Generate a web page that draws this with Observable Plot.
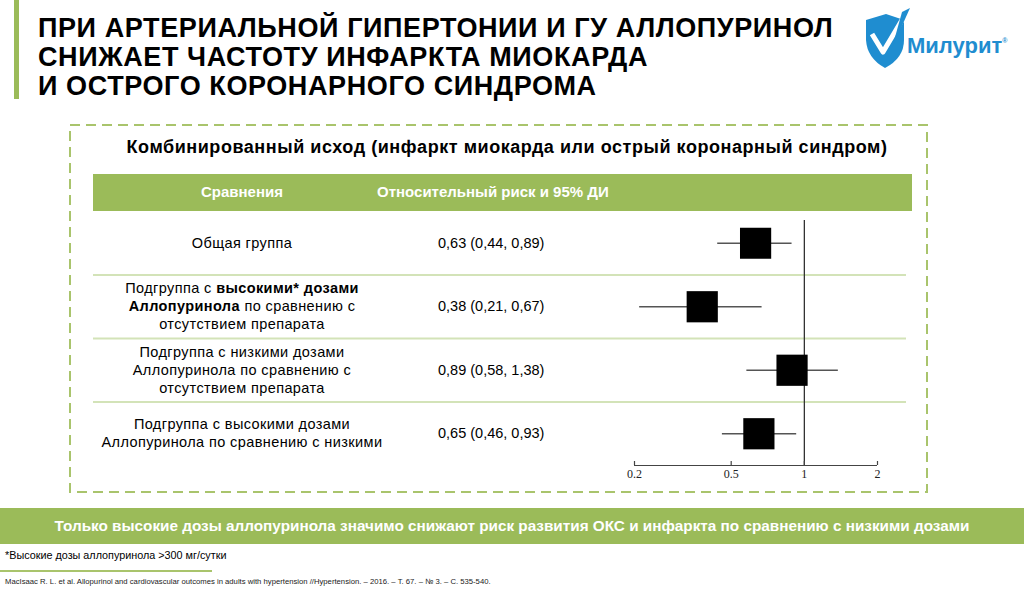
<!DOCTYPE html>
<html>
<head>
<meta charset="utf-8">
<script src="https://cdn.jsdelivr.net/npm/d3@7"></script>
<script src="https://cdn.jsdelivr.net/npm/@observablehq/plot@0.6"></script>
<style>
  html, body { margin: 0; padding: 0; background: #fff; }
  body { width: 1024px; height: 589px; position: relative; overflow: hidden; font-family: "Liberation Sans", Arial, sans-serif; color: #000; }
  .abs { position: absolute; }
  #bar { left: 14px; top: 0; width: 5px; height: 99px; background: #9bbb59; }
  #title { left: 38px; top: 14px; font-size: 27px; letter-spacing: 0.6px; font-weight: bold; line-height: 29px; white-space: nowrap; }
  #logoText { left: 907px; top: 33px; font-size: 22px; font-weight: bold; color: #1f8dd0; white-space: nowrap; }
  #subtitle { left: 0; width: 1014px; top: 137px; text-align: center; font-size: 18px; letter-spacing: 0.55px; font-weight: bold; white-space: nowrap; }
  #header { left: 93px; top: 174px; width: 819px; height: 37px; background: #9bbb59; color: #fff; font-weight: bold; font-size: 15px; }
  #header .c1 { position: absolute; left: 0; width: 298px; top: 9px; text-align: center; }
  #header .c2 { position: absolute; left: 284px; top: 9px; }
  #rows { left: 93px; top: 211px; width: 819px; }
  .row { position: absolute; left: 0; width: 819px; height: 63.5px; font-size: 14.5px; line-height: 18px; }
  .row .c1 { position: absolute; left: 0; width: 298px; top: 0; height: 100%; display: flex; flex-direction: column; justify-content: center; text-align: center; letter-spacing: 0.4px; white-space: nowrap; }
  .row .c2 { position: absolute; left: 345px; top: 0; height: 100%; display: flex; align-items: center; }
  #plot { left: 93px; top: 211px; }
  #band { left: 0; top: 508px; width: 1024px; height: 36px; background: #9bbb59; color: #fff; font-weight: bold; font-size: 15.3px; line-height: 36px; text-align: center; white-space: nowrap; }
  #foot { left: 5px; top: 549px; font-size: 10.8px; white-space: nowrap; }
  #footline { left: 0; top: 570px; width: 212px; height: 1.5px; background: #a9c46c; }
  #ref { left: 5px; top: 577px; font-size: 7.7px; white-space: nowrap; color: #222; }
</style>
</head>
<body>
<div id="bar" class="abs"></div>
<div id="title" class="abs">ПРИ АРТЕРИАЛЬНОЙ ГИПЕРТОНИИ И ГУ АЛЛОПУРИНОЛ<br>СНИЖАЕТ ЧАСТОТУ ИНФАРКТА МИОКАРДА<br>И ОСТРОГО КОРОНАРНОГО СИНДРОМА</div>

<svg class="abs" style="left:862px;top:8px" width="50" height="62" viewBox="0 0 50 62">
  <path d="M4,12 L24,6 L42,12 L42,32 Q42,50 23,60 Q5,50 4,32 Z" fill="#1f8dd0"/>
  <path d="M10,26 L21,44 L46,2" fill="none" stroke="#fff" stroke-width="5" stroke-linejoin="round"/>
  <path d="M40,4 L48,0 L30,40 Z" fill="#1f8dd0"/>
</svg>
<div id="logoText" class="abs">Милурит<sup style="font-size:7px;vertical-align:10px">®</sup></div>

<svg class="abs" style="left:69px;top:124px" width="860" height="370">
  <rect x="1" y="1" width="857" height="367" fill="none" stroke="#a9c46c" stroke-width="2" stroke-dasharray="10,6"/>
</svg>

<div id="subtitle" class="abs">Комбинированный исход (инфаркт миокарда или острый коронарный синдром)</div>

<div id="header" class="abs"><div class="c1" id="h1"></div><div class="c2" id="h2"></div></div>
<div id="rows" class="abs"></div>
<div id="plot" class="abs"></div>

<div id="band" class="abs">Только высокие дозы аллопуринола значимо снижают риск развития ОКС и инфаркта по сравнению с низкими дозами</div>
<div id="foot" class="abs">*Высокие дозы аллопуринола &gt;300 мг/сутки</div>
<div id="footline" class="abs"></div>
<div id="ref" class="abs">MacIsaac R. L. et al. Allopurinol and cardiovascular outcomes in adults with hypertension //Hypertension. – 2016. – Т. 67. – № 3. – С. 535-540.</div>

<script>
// ---- data ----
const columnHeaders = ["Сравнения", "Относительный риск и 95% ДИ"];
const comparisons = [
  ["Общая группа"],
  ["Подгруппа с <b>высокими* дозами</b>", "<b>Аллопуринола</b> по сравнению с", "отсутствием препарата"],
  ["Подгруппа с низкими дозами", "Аллопуринола по сравнению с", "отсутствием препарата"],
  ["Подгруппа с высокими дозами", "Аллопуринола по сравнению с низкими"]
];
const rr = [0.63, 0.38, 0.89, 0.65];
const ciLow = [0.44, 0.21, 0.58, 0.46];
const ciHigh = [0.89, 0.67, 1.38, 0.93];
const xTicks = [0.2, 0.5, 1, 2];

// ---- build ----
const rows = comparisons.map((lines, i) => ({i, lines, rr: rr[i], lo: ciLow[i], hi: ciHigh[i]}));
const fmt = v => v.toFixed(2).replace(".", ",");

document.getElementById("h1").textContent = columnHeaders[0];
document.getElementById("h2").textContent = columnHeaders[1];

const W = 819, H = 279, ML = 541, MR = 35, MB = 25;
const plotH = H - MB;
const rowsDiv = document.getElementById("rows");
const yPix = d3.scaleLinear().domain([-0.5, 3.5]).range([0, plotH]);
rows.forEach(r => {
  const div = document.createElement("div");
  div.className = "row";
  div.style.top = yPix(r.i - 0.5) + "px";
  div.style.height = (yPix(r.i + 0.5) - yPix(r.i - 0.5)) + "px";
  div.innerHTML = `<div class="c1">${r.lines.map(l => `<div>${l}</div>`).join("")}</div>` +
                  `<div class="c2">${fmt(r.rr)} (${fmt(r.lo)}, ${fmt(r.hi)})</div>`;
  rowsDiv.appendChild(div);
});

const seps = rows.slice(1).map(r => r.i - 0.5);

const chart = Plot.plot({
  width: W, height: H,
  marginLeft: ML, marginRight: MR, marginTop: 0, marginBottom: MB,
  x: {type: "log", domain: [xTicks[0], xTicks[xTicks.length - 1]]},
  y: {domain: [-0.5, 3.5], reverse: true, axis: null},
  style: {background: "transparent", fontFamily: "'Liberation Serif', 'DejaVu Serif', serif", fontSize: "12px", color: "#222", overflow: "visible"},
  marks: [
    Plot.ruleY(seps, {stroke: "#d3e3b8", strokeWidth: 2, insetLeft: -ML, insetRight: -(MR - 6)}),
    Plot.ruleX([1], {y1: -0.36, y2: 3.5, stroke: "#333", strokeWidth: 1.3}),
    Plot.ruleY(rows, {x1: "lo", x2: "hi", y: "i", stroke: "#555", strokeWidth: 1.5}),
    Plot.dot(rows, {x: "rr", y: "i", symbol: "square", r: 17.6, fill: "#000", stroke: null}),
    Plot.ruleY([3.5], {stroke: "#444", strokeWidth: 1.2}),
    Plot.ruleX(xTicks, {y1: 3.5, y2: 3.5, insetTop: -4, stroke: "#444", strokeWidth: 1.2}),
    Plot.axisX({ticks: xTicks, tickSize: 0, tickPadding: 4, tickFormat: d => String(d), fill: "#222", fontSize: 12})
  ]
});
document.getElementById("plot").appendChild(chart);
</script>
</body>
</html>
